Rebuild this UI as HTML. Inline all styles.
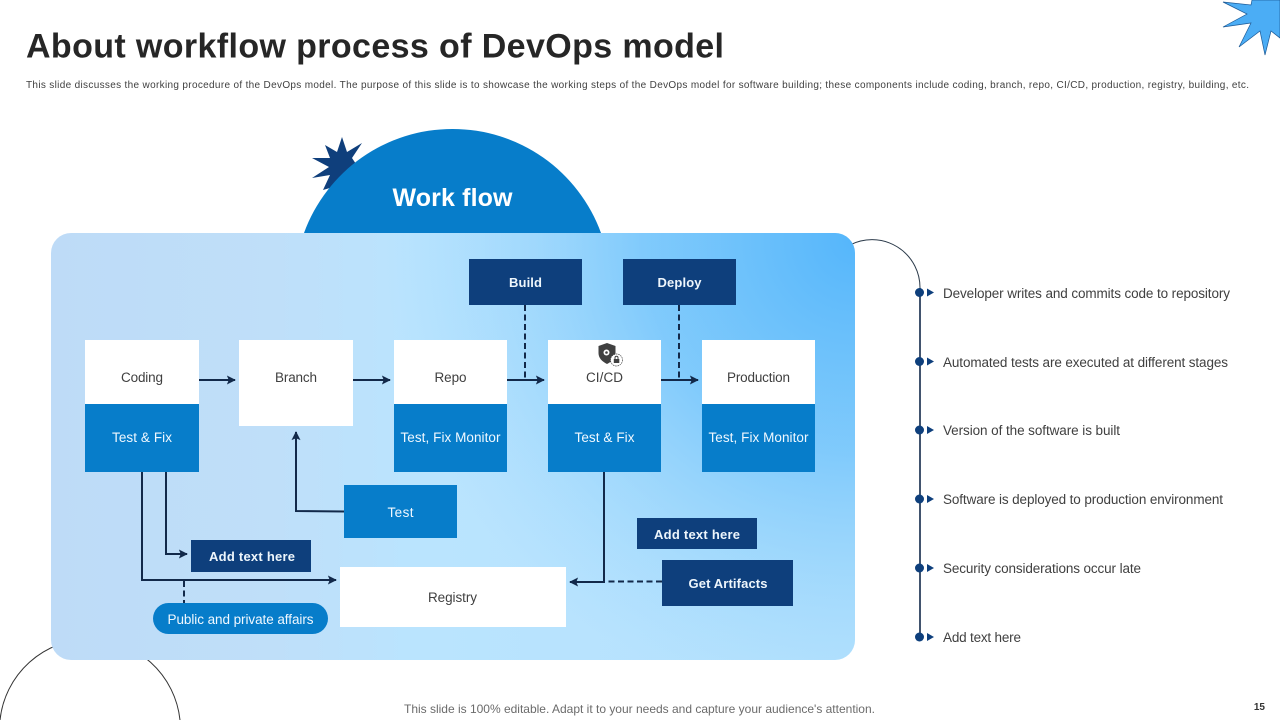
<!DOCTYPE html>
<html><head><meta charset="utf-8">
<style>
html,body{margin:0;padding:0;background:#fff;width:1280px;height:720px;overflow:hidden}
svg{display:block;font-family:"Liberation Sans",sans-serif}
</style></head>
<body>
<svg width="1280" height="720" viewBox="0 0 1280 720" xmlns="http://www.w3.org/2000/svg">
<defs>
<linearGradient id="base" gradientUnits="userSpaceOnUse" x1="51" y1="446" x2="855" y2="446">
<stop offset="0" stop-color="#bedbf7"/><stop offset="0.28" stop-color="#bfdff9"/><stop offset="0.45" stop-color="#bae4fe"/><stop offset="1" stop-color="#b4e1fd"/>
</linearGradient>
<radialGradient id="tr" gradientUnits="userSpaceOnUse" cx="855" cy="240" r="470">
<stop offset="0" stop-color="#55b6fb" stop-opacity="1"/><stop offset="0.45" stop-color="#72c4fb" stop-opacity="0.8"/><stop offset="1" stop-color="#9ad6fd" stop-opacity="0"/>
</radialGradient>
<marker id="a" viewBox="0 0 10 10" refX="9" refY="5" markerWidth="10" markerHeight="9" markerUnits="userSpaceOnUse" orient="auto"><path d="M0 0L10 5L0 10L2 5Z" fill="#12294a"/></marker>
</defs>

<text x="26" y="57.500" font-size="34" font-weight="700" fill="#262626" textLength="698" lengthAdjust="spacing">About workflow process of DevOps model</text>
<text x="26" y="88" font-size="10" fill="#404040" textLength="1223" lengthAdjust="spacing">This slide discusses the working procedure of the DevOps model. The purpose of this slide is to showcase the working steps of the DevOps model for software building; these components include coding, branch, repo, CI/CD, production, registry, building, etc.</text>

<polygon points="1252,0 1251,5 1223,2 1247,14 1223,27 1251,23 1239,47 1260,31 1265,55 1271,31 1280,38 1280,0" fill="#4badf5" stroke="#1d5a96" stroke-width="0.7"/>
<polygon points="342,137 347,152 362,143 352,158 360,170 340,185 323,190 330,175 312,178 329,167 312,158 330,158 325,145 337,152" fill="#0f3f7c"/>

<path d="M0 720A90.500 90.500 0 0 1 180 720" fill="none" stroke="#333" stroke-width="1"/>
<path d="M850 245A48 48 0 0 1 920 288" fill="none" stroke="#2b3a4a" stroke-width="1"/>
<path d="M920 288V637" stroke="#12294a" stroke-width="1.600"/>

<path d="M304 233A158 158 0 0 1 601 233Z" fill="#077dca"/>
<text x="452.500" y="206" font-size="25" font-weight="700" fill="#fff" text-anchor="middle" textLength="120" lengthAdjust="spacing">Work flow</text>

<rect x="51" y="233" width="804" height="427" rx="20" fill="url(#base)"/>
<rect x="51" y="233" width="804" height="427" rx="20" fill="url(#tr)"/>

<g fill="#fff">
<rect x="85" y="340" width="114" height="65"/><rect x="239" y="340" width="114" height="86"/>
<rect x="394" y="340" width="113" height="65"/><rect x="548" y="340" width="113" height="65"/>
<rect x="702" y="340" width="113" height="65"/><rect x="340" y="567" width="226" height="60"/>
</g>
<g fill="#077dca">
<rect x="85" y="404" width="114" height="68"/><rect x="394" y="404" width="113" height="68"/>
<rect x="548" y="404" width="113" height="68"/><rect x="702" y="404" width="113" height="68"/>
<rect x="344" y="485" width="113" height="53"/><rect x="153" y="603" width="175" height="31" rx="15.500"/>
</g>
<g fill="#0e3f7c">
<rect x="469" y="259" width="113" height="46"/><rect x="623" y="259" width="113" height="46"/>
<rect x="191" y="540" width="120" height="32"/><rect x="637" y="518" width="120" height="31"/>
<rect x="662" y="560" width="131" height="46"/>
</g>

<g fill="none" stroke="#12294a" stroke-width="2">
<path d="M199 380H235" marker-end="url(#a)"/>
<path d="M353 380H390" marker-end="url(#a)"/>
<path d="M507 380H544" marker-end="url(#a)"/>
<path d="M661 380H698" marker-end="url(#a)"/>
<path d="M344 511.500L296 511V432" marker-end="url(#a)"/>
<path d="M166 472V554H187" marker-end="url(#a)"/>
<path d="M142 472V580H336" marker-end="url(#a)"/>
<path d="M604 472V582H570" marker-end="url(#a)"/>
<g stroke-dasharray="6 3.500">
<path d="M525 305V380"/><path d="M679 305V380"/>
<path d="M184 581V603"/><path d="M662 581.500H604"/>
</g>
</g>

<g font-size="13.500" fill="#404040" text-anchor="middle">
<text x="142" y="382" textLength="42">Coding</text>
<text x="296" y="382" textLength="42">Branch</text>
<text x="450.500" y="382" textLength="32">Repo</text>
<text x="604.500" y="382" textLength="37">CI/CD</text>
<text x="758.500" y="382" textLength="63">Production</text>
<text x="452.500" y="602" textLength="49">Registry</text>
</g>
<g font-size="13.500" fill="#f0f8ff" text-anchor="middle">
<text x="142" y="442" textLength="60">Test &amp; Fix</text>
<text x="450.500" y="442" textLength="100">Test, Fix Monitor</text>
<text x="604.500" y="442" textLength="60">Test &amp; Fix</text>
<text x="758.500" y="442" textLength="100">Test, Fix Monitor</text>
<text x="400.500" y="517" textLength="26">Test</text>
<text x="240.500" y="624" textLength="146">Public and private affairs</text>
</g>
<g font-size="13" font-weight="700" fill="#eef6fc" text-anchor="middle">
<text x="525.500" y="287" textLength="33">Build</text>
<text x="679.500" y="287" textLength="44">Deploy</text>
<text x="252" y="561" textLength="86">Add text here</text>
<text x="697" y="539" textLength="86">Add text here</text>
<text x="728" y="588" textLength="79">Get Artifacts</text>
</g>

<!-- security icon -->
<path d="M607 343L615.500 346V353C615.500 358 612 361.500 607 364C602 361.500 598.500 358 598.500 353V346Z" fill="#404040"/>
<circle cx="606.500" cy="352.500" r="3" fill="#fff"/>
<circle cx="606.500" cy="352.500" r="1.300" fill="#404040"/>
<circle cx="616.500" cy="360" r="6" fill="#fff" stroke="#404040" stroke-width="0.700" stroke-dasharray="1.500 0.800"/>
<rect x="613.800" y="359" width="5.500" height="4" fill="#404040"/>
<path d="M615 359V357.800A1.500 1.500 0 0 1 618 357.800V359" fill="none" stroke="#404040"/>

<g fill="#0e3f7c">
<circle cx="919.500" cy="292.500" r="4.500"/><path d="M927 288.500L934 292.500L927 296.500Z"/>
<circle cx="919.500" cy="361.500" r="4.500"/><path d="M927 357.500L934 361.500L927 365.500Z"/>
<circle cx="919.500" cy="430" r="4.500"/><path d="M927 426L934 430L927 434Z"/>
<circle cx="919.500" cy="499" r="4.500"/><path d="M927 495L934 499L927 503Z"/>
<circle cx="919.500" cy="568" r="4.500"/><path d="M927 564L934 568L927 572Z"/>
<circle cx="919.500" cy="637" r="4.500"/><path d="M927 633L934 637L927 641Z"/>
</g>
<g font-size="13.500" fill="#404040">
<text x="943" y="298" textLength="287">Developer writes and commits code to repository</text>
<text x="943" y="367" textLength="285">Automated tests are executed at different stages</text>
<text x="943" y="435" textLength="177">Version of the software is built</text>
<text x="943" y="504" textLength="280">Software is deployed to production environment</text>
<text x="943" y="573" textLength="198">Security considerations occur late</text>
<text x="943" y="642" textLength="78">Add text here</text>
</g>

<text x="404" y="713" font-size="12" fill="#6b6b6b" textLength="471">This slide is 100% editable. Adapt it to your needs and capture your audience's attention.</text>
<text x="1265" y="710" font-size="10" font-weight="700" fill="#333" text-anchor="end">15</text>
</svg>
</body></html>
